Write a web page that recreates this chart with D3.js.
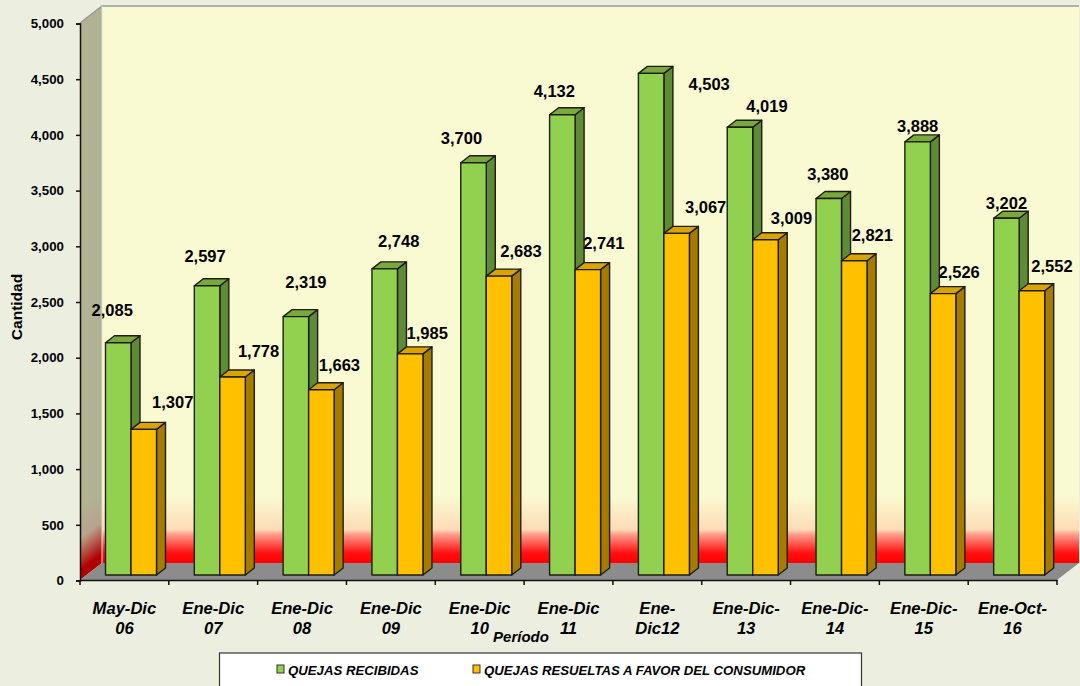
<!DOCTYPE html>
<html>
<head>
<meta charset="utf-8">
<script src="https://cdn.jsdelivr.net/npm/d3@7"></script>
<style>
  html, body { margin: 0; padding: 0; background: #ecefe0; overflow: hidden; }
  text { font-family: "Liberation Sans", Arial, sans-serif; fill: #000; }
</style>
</head>
<body>
<svg width="1080" height="686"></svg>
<script>
const categories = ["May-Dic\n06", "Ene-Dic\n07", "Ene-Dic\n08", "Ene-Dic\n09", "Ene-Dic\n10", "Ene-Dic\n11", "Ene-\nDic12", "Ene-Dic-\n13", "Ene-Dic-\n14", "Ene-Dic-\n15", "Ene-Oct-\n16"];
const recibidas = [2085, 2597, 2319, 2748, 3700, 4132, 4503, 4019, 3380, 3888, 3202];
const resueltas = [1307, 1778, 1663, 1985, 2683, 2741, 3067, 3009, 2821, 2526, 2552];
const yTicks = [0, 500, 1000, 1500, 2000, 2500, 3000, 3500, 4000, 4500, 5000];
const seriesNames = ["QUEJAS RECIBIDAS", "QUEJAS RESUELTAS A FAVOR DEL CONSUMIDOR"];

// hand placed data labels in the original, offset from the bar top
const recibidasLabelOffset = [[-6, -33], [-2, -29], [10, -34], [14, -28], [-12, -25], [-8, -23], [58, 11], [27, -21], [-1, -24], [0, -16], [0, -15]];
const resueltasLabelOffset = [[29, -27], [26, -26], [18, -25], [17, -21], [22, -25], [16, -26], [29, -26], [26, -22], [18, -26], [16, -21], [20, -24]];

const svg = d3.select("svg");
const defs = svg.append("defs");

const x0 = 80, x1 = 1057, y0 = 580, y1 = 23;
const wallDx = 22, wallDy = -17;   // depth of the 3d box
const barDx = 9, barDy = -7;       // depth of a bar
const barLift = 5.5;               // bars stand a bit behind the front edge
const barWidth = 25.5;

const x = d3.scaleBand().domain(categories).range([x0, x1]);
const y = d3.scaleLinear().domain([0, 5000]).range([y0 + 0.5, y1 + 0.5]);

const backGrad = defs.append("linearGradient").attr("id", "backGrad")
  .attr("x1", 0).attr("y1", 0).attr("x2", 0).attr("y2", 1);
[[0, "#fafad2"], [0.878, "#fafad2"], [0.94, "#fcdcb6"], [0.949, "#ff9c8c"], [0.982, "#ff1010"], [1, "#ff0000"]].forEach(s => {
  backGrad.append("stop").attr("offset", s[0]).attr("stop-color", s[1]);
});

// the side wall shading follows the perspective of the box
const sideGrad = defs.append("linearGradient").attr("id", "sideGrad")
  .attr("gradientUnits", "userSpaceOnUse")
  .attr("x1", 80).attr("y1", 6).attr("x2", 357).attr("y2", 365);
[[0, "#b1b193"], [0.878, "#b1b193"], [0.93, "#b8a38c"], [0.956, "#b55a4c"], [0.986, "#b00000"], [1, "#b00000"]].forEach(s => {
  sideGrad.append("stop").attr("offset", s[0]).attr("stop-color", s[1]);
});

const poly = pts => pts.map(p => p.join(",")).join(" ");

// walls and floor
svg.append("polygon")
  .attr("points", poly([[x0 + wallDx, y1 + wallDy], [x1 + wallDx, y1 + wallDy], [x1 + wallDx, y0 + wallDy], [x0 + wallDx, y0 + wallDy]]))
  .attr("fill", "url(#backGrad)");
svg.append("polygon")
  .attr("points", poly([[x0, y1], [x0 + wallDx, y1 + wallDy], [x0 + wallDx, y0 + wallDy], [x0, y0]]))
  .attr("fill", "url(#sideGrad)");
svg.append("polygon")
  .attr("points", poly([[x0, y0], [x1, y0], [x1 + wallDx, y0 + wallDy], [x0 + wallDx, y0 + wallDy]]))
  .attr("fill", "#8c8c8c");
svg.append("path")
  .attr("d", `M${x0},${y1}L${x0 + wallDx},${y1 + wallDy}H${x1 + wallDx}`)
  .attr("fill", "none").attr("stroke", "#999").attr("stroke-width", 1.5);
svg.append("line")
  .attr("x1", x0 + wallDx).attr("x2", x0 + wallDx)
  .attr("y1", y1 + wallDy).attr("y2", y0 + wallDy)
  .attr("stroke", "#ddd").attr("stroke-width", 1);

// bars
const groups = svg.append("g").selectAll("g")
  .data(categories)
  .join("g");

function drawBar(sel, values, xOff, front, top, side) {
  const bar = sel.append("g")
    .attr("stroke", "#1e1e10").attr("stroke-width", 1.4).attr("stroke-linejoin", "round");
  const left = (d, i) => x(d) + xOff;
  const topY = i => y(values[i]) - barLift;
  const base = y(0) - barLift;
  bar.append("polygon").attr("fill", side)
    .attr("points", (d, i) => {
      const l = left(d, i) + barWidth;
      return poly([[l, topY(i)], [l + barDx, topY(i) + barDy], [l + barDx, base + barDy], [l, base]]);
    });
  bar.append("polygon").attr("fill", top)
    .attr("points", (d, i) => {
      const l = left(d, i);
      return poly([[l, topY(i)], [l + barDx, topY(i) + barDy], [l + barWidth + barDx, topY(i) + barDy], [l + barWidth, topY(i)]]);
    });
  bar.append("rect").attr("fill", front)
    .attr("x", (d, i) => left(d, i))
    .attr("y", (d, i) => topY(i))
    .attr("width", barWidth)
    .attr("height", (d, i) => base - topY(i));
}

drawBar(groups, recibidas, 25.5, "#92d050", "#7aa83e", "#5f8a38");
drawBar(groups, resueltas, 51, "#ffc000", "#d9a300", "#a67c00");

// data labels
function drawLabels(values, xOff, offsets) {
  svg.append("g").selectAll("text")
    .data(values)
    .join("text")
    .attr("x", (d, i) => x(categories[i]) + xOff + barWidth / 2 + offsets[i][0])
    .attr("y", (d, i) => y(d) - barLift + offsets[i][1])
    .attr("dy", "0.35em")
    .attr("text-anchor", "middle")
    .attr("font-size", 16.5)
    .attr("font-weight", "bold")
    .text(d => d3.format(",")(d));
}
drawLabels(recibidas, 25.5, recibidasLabelOffset);
drawLabels(resueltas, 51, resueltasLabelOffset);

// y axis
const yAxis = svg.append("g")
  .attr("transform", `translate(${x0},0)`)
  .call(d3.axisLeft(y).tickValues(yTicks).tickFormat(d3.format(",")).tickSize(4).tickPadding(12));
yAxis.select(".domain").attr("stroke", "#111").attr("stroke-width", 1.5);
yAxis.selectAll(".tick line").attr("stroke", "#111").attr("stroke-width", 1.5);
yAxis.selectAll("text").attr("font-size", 13.3).attr("font-weight", "bold")
  .attr("font-family", "Liberation Sans");

// x axis, ticks sit on the band edges
const xAxis = svg.append("g").attr("transform", `translate(0,${y0})`)
  .call(d3.axisBottom(x).tickSize(0).tickFormat(""));
xAxis.select(".domain").attr("stroke", "#111").attr("stroke-width", 1.5);
xAxis.selectAll(".tick").remove();
xAxis.selectAll("line.edge")
  .data(categories.concat(["end"]))
  .join("line")
  .attr("class", "edge")
  .attr("x1", (d, i) => x0 + i * x.bandwidth())
  .attr("x2", (d, i) => x0 + i * x.bandwidth())
  .attr("y1", 0).attr("y2", 5)
  .attr("stroke", "#111").attr("stroke-width", 1.5);

const catLabels = svg.append("g").selectAll("text")
  .data(categories)
  .join("text")
  .attr("text-anchor", "middle")
  .attr("font-size", 16.6)
  .attr("font-weight", "bold")
  .attr("font-style", "italic");
catLabels.selectAll("tspan")
  .data(d => d.split("\n").map(t => ({ t, cat: d })))
  .join("tspan")
  .attr("x", d => x(d.cat) + x.bandwidth() / 2)
  .attr("y", (d, i) => 614 + i * 20)
  .text(d => d.t);

// axis titles
svg.append("text")
  .attr("x", 521).attr("y", 642)
  .attr("text-anchor", "middle")
  .attr("font-size", 15).attr("font-weight", "bold").attr("font-style", "italic")
  .text("Período");
svg.append("text")
  .attr("transform", "translate(22,307) rotate(-90)")
  .attr("text-anchor", "middle")
  .attr("font-size", 15.5).attr("font-weight", "bold")
  .text("Cantidad");

// legend
svg.append("rect")
  .attr("x", 219.5).attr("y", 653).attr("width", 642).attr("height", 50)
  .attr("fill", "#fff").attr("stroke", "#333").attr("stroke-width", 1.2);
const legendColors = ["#92d050", "#ffc000"];
const legend = svg.append("g").selectAll("g")
  .data(seriesNames)
  .join("g")
  .attr("transform", (d, i) => `translate(${[277, 473][i]},665)`);
legend.append("rect")
  .attr("width", 7).attr("height", 8)
  .attr("fill", (d, i) => legendColors[i])
  .attr("stroke", "#333").attr("stroke-width", 1);
legend.append("text")
  .attr("x", 11).attr("y", 9.5)
  .attr("font-size", 13.2).attr("font-weight", "bold").attr("font-style", "italic")
  .text(d => d);
</script>
</body>
</html>
